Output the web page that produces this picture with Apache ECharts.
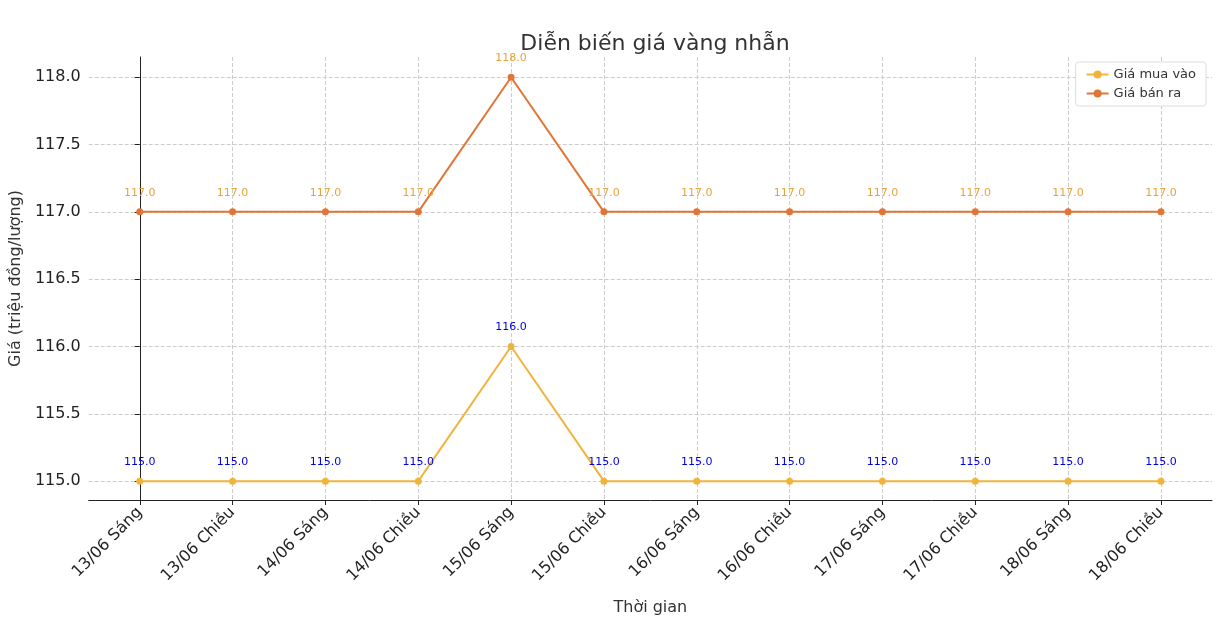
<!DOCTYPE html>
<html><head><meta charset="utf-8">
<script src="https://cdn.jsdelivr.net/npm/echarts@6/dist/echarts.min.js"></script>
<style>html,body{margin:0;background:#fff}#c{width:1216px;height:636px}</style></head>
<body><div id="c"></div>
<script>
const categories=["13/06 Sáng","13/06 Chiều","14/06 Sáng","14/06 Chiều","15/06 Sáng","15/06 Chiều","16/06 Sáng","16/06 Chiều","17/06 Sáng","17/06 Chiều","18/06 Sáng","18/06 Chiều"];
const buyValues=[115,115,115,115,116,115,115,115,115,115,115,115];
const sellValues=[117,117,117,117,118,117,117,117,117,117,117,117];
const yTicks=[115,115.5,116,116.5,117,117.5,118];
const font="DejaVu Sans";
const xIdx=categories.map((c,i)=>i);
const chart=echarts.init(document.getElementById('c'));
function lbl(color){return {show:true,position:'top',distance:10,color:color,fontSize:11,fontFamily:font,formatter:p=>p.value[1].toFixed(1)};}
chart.setOption({
 animation:false,
 textStyle:{fontFamily:font},
 title:{text:'Diễn biến giá vàng nhẫn',left:650,top:28,textAlign:'center',textStyle:{fontSize:22,fontWeight:'normal',color:'#333',fontFamily:font}},
 legend:{top:62,right:10,orient:'vertical',itemGap:6,itemWidth:22,itemHeight:10,backgroundColor:'#fff',borderColor:'#ddd',borderWidth:1,borderRadius:3,padding:[6,10],textStyle:{fontSize:13,color:'#333'},data:['Giá mua vào','Giá bán ra']},
 grid:{left:87,right:4,top:57,bottom:136},
 xAxis:{type:'value',min:-0.55,max:11.55,name:'Thời gian',nameLocation:'middle',nameGap:100,nameTextStyle:{fontSize:16,color:'#333'},
  axisLine:{lineStyle:{color:'#222'}},axisTick:{show:true,customValues:xIdx,lineStyle:{color:'#222'}},
  axisLabel:{customValues:xIdx,rotate:45,fontSize:16,color:'#222',margin:10,formatter:v=>categories[Math.round(v)]},
  splitLine:{show:true,lineStyle:{type:'dashed',color:'#ccc'}}},
 yAxis:{type:'value',min:114.86,max:118.15,name:'Giá (triệu đồng/lượng)',nameLocation:'middle',nameGap:62,nameTextStyle:{fontSize:16,color:'#333'},
  axisLine:{show:true,lineStyle:{color:'#222'}},axisTick:{show:true,customValues:yTicks,lineStyle:{color:'#222'}},
  axisLabel:{customValues:yTicks,fontSize:16,color:'#222',formatter:v=>v.toFixed(1)},
  splitLine:{show:true,lineStyle:{type:'dashed',color:'#ccc'}}},
 series:[
  {name:'Giá mua vào',type:'line',data:buyValues.map((v,i)=>[i,v]),color:'#f0b43c',symbol:'circle',symbolSize:7,lineStyle:{width:2},label:lbl('#0000dd')},
  {name:'Giá bán ra',type:'line',data:sellValues.map((v,i)=>[i,v]),color:'#e07536',symbol:'circle',symbolSize:7,lineStyle:{width:2},label:lbl('#e8a33a')}
 ]
});
</script></body></html>
